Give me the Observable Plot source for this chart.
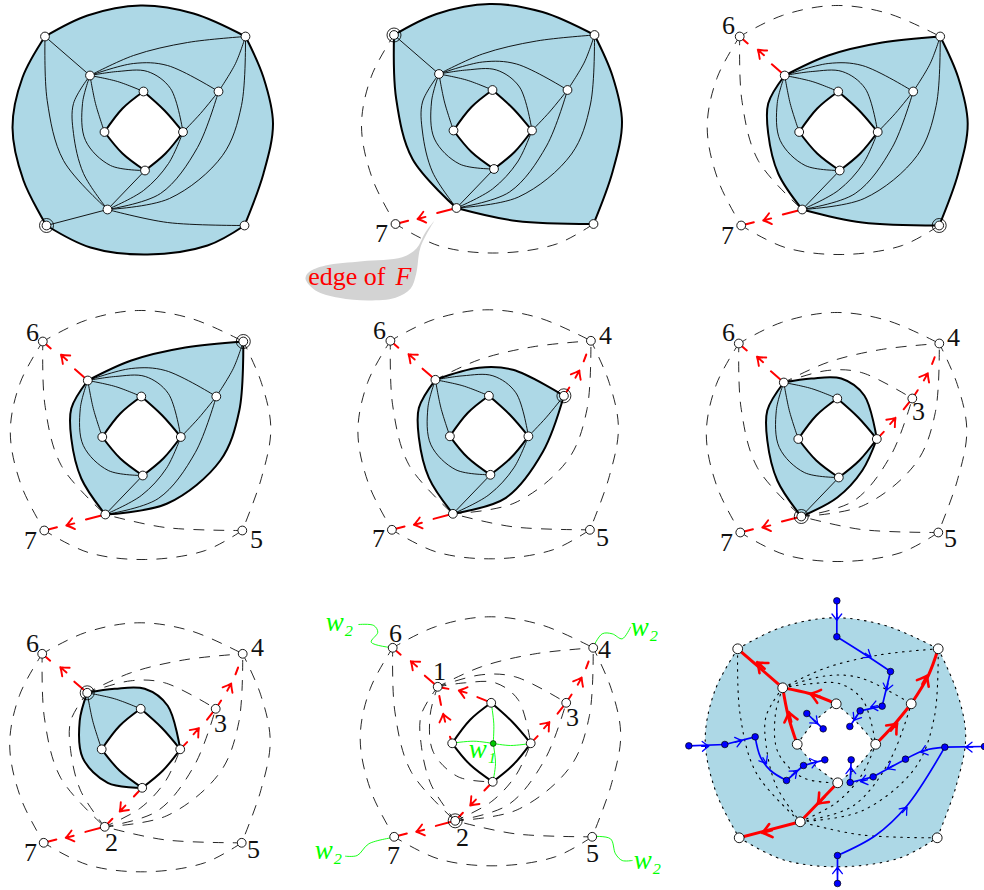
<!DOCTYPE html>
<html><head><meta charset="utf-8">
<script src="https://cdn.jsdelivr.net/npm/d3@7"></script>
<script src="https://cdn.jsdelivr.net/npm/@observablehq/plot@0.6"></script>
<style>html,body{margin:0;padding:0;background:#fff}svg{display:block}</style>
</head><body><div id="chart"></div>
<script>
// ---- Vertices of the base drawing (first panel)
const nodeNames = ["6","4","7","5","1","3","T","L","R","B","2"];
const nodeX = [44.5,245,46,244,89.5,218,143,104,182.5,144.5,107];
const nodeY = [36,36,225,225,75,91,91,131.5,131.5,170,209];
const at = n => [nodeX[nodeNames.indexOf(n)], nodeY[nodeNames.indexOf(n)]];

// ---- Edges, as points
const tlTr = [at("6"),[87,15],[140,5],[193,13],at("4")];
const trBr = [at("4"),[263,77],[272.5,123],[263,173],at("5")];
const blBr = [at("7"),[90,247],[147,254],[207,245],at("5")];
const tlBl = [at("6"),[22,77],[12,127],[23,180],at("7")];
const oneTl = [at("1"),at("6")];
const tlTwo = [at("6"),[46.7,100],[63,160],at("2")];
const oneT = [at("1"),[117,81],at("T")];
const oneL = [at("1"),[95,103],at("L")];
const oneTwoA = [at("1"),[73,103],[73,133],[83,173],at("2")];
const oneB = [at("1"),[82,103],[85,140],[110,165],at("B")];
const oneR = [at("1"),[117,71],[147,71],[170,88],at("R")];
const oneThree = [at("1"),[133,63],[167,65],at("3")];
const oneTr = [at("1"),[133,55],[187,42],at("4")];
const threeTr = [at("3"),[235,63],at("4")];
const threeR = [at("3"),[200,113],at("R")];
const twoB = [at("2"),at("B")];
const twoR = [at("2"),[143,190],[168,163],at("R")];
const twoThree = [at("2"),[160,193],[197,147],at("3")];
const twoTr = [at("2"),[169,198],[222,155],[241,105],at("4")];
const twoBl = [at("2"),at("7")];
const brTwo = [at("5"),[167,222],at("2")];
const dTR = [at("T"),[164,110],at("R")];
const dRB = [at("R"),[165,153],at("B")];
const dBL = [at("B"),[122,153],at("L")];
const dLT = [at("L"),[122,108],at("T")];
const edges = {tlTr,trBr,blBr,tlBl,oneTl,tlTwo,oneT,oneL,oneTwoA,oneB,oneR,oneThree,oneTr,threeTr,threeR,twoB,twoR,twoThree,twoTr,twoBl,brTwo,dTR,dRB,dBL,dLT};
const diamond = ["dTR","dRB","dBL","dLT"];

// ---- Red edges: dash pattern, arrow tip, heading (base coordinates)
const redDash = {oneTl:"17,32,30",twoBl:"20,30,30",threeTr:"10,30,7,30",threeR:"10,30,13",twoB:"12,31,11",oneT:"15,30,10",oneL:"7,33,9,30"};
const redTip = {oneTl:[62.6,49.3],twoBl:[68,220],threeR:[201.2,110.3],threeTr:[233.5,65.7],twoB:[122,193.7],oneT:[110.6,78.7],oneL:[95,102]};
const redHeading = {oneTl:-48.8,twoBl:-104.5,threeR:41,threeTr:29,twoB:-136.3,oneT:-73.6,oneL:-13.6};

// ---- Panels
const panelDx = [0,349,694.7,-2.2,345.4,693.8,-2.8,347.7,692.7];
const panelDy = [0,-1.5,0,305,304.3,307,617.3,611.3,612.3];
const panelRoot = ["7","6","5","4","3","2","1","2",null];
const panelFill = [
  ["tlTr","trBr","-blBr","-tlBl"],
  ["tlTr","trBr","brTwo","-tlTwo"],
  ["oneTr","trBr","brTwo","-oneTwoA"],
  ["oneTr","-twoTr","-oneTwoA"],
  ["oneThree","-twoThree","-oneTwoA"],
  ["oneR","-twoR","-oneTwoA"],
  ["oneR","dRB","-oneB"],
  [],
  ["tlTr","trBr","-blBr","-tlBl"]
];
const panelThin = [
  ["oneTl","tlTwo","oneT","oneL","oneTwoA","oneB","oneR","oneThree","oneTr","threeTr","threeR","twoB","twoR","twoThree","twoTr","twoBl","brTwo"],
  ["oneTl","oneT","oneL","oneTwoA","oneB","oneR","oneThree","oneTr","threeTr","threeR","twoB","twoR","twoThree","twoTr"],
  ["oneT","oneL","oneB","oneR","oneThree","threeTr","threeR","twoB","twoR","twoThree","twoTr"],
  ["oneT","oneL","oneB","oneR","oneThree","threeTr","threeR","twoB","twoR","twoThree"],
  ["oneT","oneL","oneB","oneR","threeR","twoB","twoR"],
  ["oneT","oneL","oneB","twoB"],
  ["oneT","oneL"],
  [],[]
];
const panelDashed = [
  [],
  ["tlBl","blBr"],
  ["tlTr","tlBl","tlTwo","blBr"],
  ["tlTr","tlBl","tlTwo","blBr","trBr","brTwo"],
  ["tlTr","tlBl","tlTwo","blBr","trBr","brTwo","oneTr","twoTr"],
  ["tlTr","tlBl","tlTwo","blBr","trBr","brTwo","oneTr","twoTr","oneThree","twoThree"],
  ["tlTr","tlBl","tlTwo","blBr","trBr","brTwo","oneTr","twoTr","oneThree","twoThree","oneTwoA","twoR"],
  ["tlTr","tlBl","tlTwo","blBr","trBr","brTwo","oneTr","twoTr","oneThree","twoThree","oneTwoA","twoR","oneR","oneB"],
  []
];
const panelRed = [
  [],["twoBl"],["oneTl","twoBl"],["oneTl","twoBl"],["oneTl","twoBl","threeTr"],
  ["oneTl","twoBl","threeTr","threeR"],["oneTl","twoBl","threeTr","threeR","twoB"],
  ["oneTl","twoBl","threeTr","threeR","twoB","oneT","oneL"],[]
];
const panelDotted = ["tlTr","trBr","blBr","tlBl","tlTwo","oneTwoA","oneB","oneR","oneThree","oneTr","twoR","twoThree","twoTr","brTwo","dTR","dRB","dBL","dLT"];
const panelNineRed = ["oneTl","twoBl","threeTr","threeR","twoB","oneT","oneL"];

// ---- Labels (x, y, text)
const digitX = [381,728,727,32,30,256,379,605,378,602,728,953,918,726,950,32,257,220,111,30,253,395,439,604,572,462,393,592];
const digitY = [233,25,235,332,540,539,330,335,538,537,332,337,411,542,538,643,647,723,842,852,849,633,671,649,717,837,855,853];
const digitT = ["7","6","7","6","7","5","6","4","7","5","6","4","3","7","5","6","4","3","2","7","5","6","1","4","3","2","7","5"];
const wX = [339,644,328,647,482];
const wY = [622,627,850,860,749];
const wT = ["w₂","w₂","w₂","w₂","w₁"];

// ---- Grey call-out (picture coordinates)
const calloutX = [434,425,415.7,401.7,361.7,325,308.3,305,315,338.3,368.3,395,410,415.7,420,434];
const calloutY = [220,231.7,248.3,256.7,260.7,265,271.7,278.3,290,297.3,300,297.3,288.3,273.3,246.7,220];

// ---- Green curves in the eighth panel
const green1 = [[358.3,624],[373.3,625],[377.3,631.7],[370.7,641.7],[392.3,647.3]];
const green2 = [[592.3,647.3],[601.7,633.3],[611.7,633.3],[621.7,638.3],[630,626.7]];
const green3 = [[394.3,836.7],[368.3,843.3],[356.7,855],[345,855.7]];
const green4 = [[591.7,836],[610,838.3],[615,853.3],[621.7,860],[631.7,860]];
const green5 = [[492.7,743],[493.3,723.3],[490.7,702.3]];
const green6 = [[492.7,743],[473.3,740.7],[451.3,742.7]];
const green7 = [[492.7,743],[510,745],[530,743]];
const green8 = [[492.7,743],[495,763.3],[492.3,781.7]];
const greenCurves = [green1,green2,green3,green4,green5,green6,green7,green8];

// ---- Blue dual tree in the ninth panel (zoomed coordinates / 3 + origin)
const blueX = [469,469,630,605,539,508,25,133,224,318,369,433,379,428,912,793,675,578,509,512,471,471];
const blueY = [31,139,243,347,361,408,466,462,439,570,525,508,369,415,468,470,506,559,576,508,879,795];
const blueLinks = [[[469,31],[469,139]],[[469,139],[550,190],[630,243]],[[630,243],[605,347]],[[605,347],[539,361]],[[539,361],[508,408]],
 [[25,466],[133,462]],[[133,462],[224,439]],[[224,439],[240,500],[270,540],[318,570]],[[318,570],[369,525]],[[369,525],[433,508]],
 [[379,369],[428,415]],[[912,468],[793,470]],[[793,470],[730,480],[675,506]],[[675,506],[578,559]],[[578,559],[509,576]],[[509,576],[512,508]],
 [[471,879],[471,795]],[[471,795],[585,735],[680,645],[793,470]]];
const blueTipX = [469,572,618,570,520,85,185,258,350,410,412,855,720,620,540,511,471,680];
const blueTipY = [90,200,300,350,390,467,450,520,540,513,400,470,485,535,573,530,830,650];
const blueHeading = [180,123,193,258,-147,88,76,149,49,75,133,270,253,-119,-104,0,0,41];

// ---- Row builders
const edgePts = name => name[0]==="-" ? [...edges[name.slice(1)]].reverse() : edges[name];
const shift = (p, d) => p.map(([x,y]) => ({x:x+d[0], y:y+d[1]}));
const off = i => [panelDx[i], panelDy[i]];
function rows(lists){ // lists[i] = edge names for panel i
  const out=[];
  lists.forEach((names,i)=>names.forEach(n=>shift(edgePts(n),off(i)).forEach(p=>out.push({...p,id:i+":"+n}))));
  return out;
}
const reversedRed = new Set(["threeR","oneT","oneL"]);
function redRows(lists){
  const out=[];
  lists.forEach((names,i)=>names.forEach(n=>{
    const pts = reversedRed.has(n) ? [...edges[n]].reverse() : (n==="twoB" ? [...edges[n]].reverse() : edges[n]);
    shift(pts,off(i)).forEach(p=>out.push({...p,id:i+":"+n,dash:redDash[n]}));
  }));
  return out;
}
const fillRows = []; panelFill.forEach((names,i)=>names.forEach(n=>shift(edgePts(n),off(i)).forEach(p=>fillRows.push({...p,id:i}))));
const holeRows = []; [0,1,2,3,4,5,6,8].forEach(i=>diamond.forEach(n=>shift(edges[n],off(i)).forEach(p=>holeRows.push({...p,id:i}))));
const thinRows = rows(panelThin);
const thickRows = rows(panelFill.map((f,i)=> i===8 ? [] : [...new Set([...f.map(s=>s.replace("-","")),...diamond])]));
const dashedRows = rows(panelDashed);
const dottedRows = rows(panelThin.map((_,i)=> i===8 ? panelDotted : []));
const redData = redRows(panelRed);
const redNine = panelNineRed.flatMap(n=>shift(edges[n],off(8)).map(p=>({...p,id:n})));
const redArrows = [];
panelRed.forEach((names,i)=>names.forEach(n=>redArrows.push({x:redTip[n][0]+panelDx[i],y:redTip[n][1]+panelDy[i],r:redHeading[n]})));
const nineTipX = [230,245,740,650,412,390,325];
const nineTipY = [215,727,255,398,640,310,365];
const nineHead = [-48.8,-104.5,29,41,-136.3,-73.6,-13.6];
const z9 = (x,y)=>({x:x/3+680,y:y/3+590});
const redNineArrows = nineTipX.map((x,i)=>({...z9(x,nineTipY[i]),r:nineHead[i]}));
const blueDots = blueX.map((x,i)=>z9(x,blueY[i]));
const blueRows = blueLinks.flatMap((l,i)=>l.map(([x,y])=>({...z9(x,y),id:i})));
const blueArrows = blueTipX.map((x,i)=>({...z9(x,blueTipY[i]),r:blueHeading[i]}));
const nodeRows = panelDx.flatMap((dx,i)=>nodeNames.map((n,j)=>({x:nodeX[j]+dx,y:nodeY[j]+panelDy[i],p:i})));
const rootRows = panelRoot.flatMap((n,i)=>n?[{x:at(n)[0]+panelDx[i],y:at(n)[1]+panelDy[i]}]:[]);
const greenRows = greenCurves.flatMap((c,i)=>c.map(([x,y])=>({x,y,id:i})));
const calloutRows = calloutX.map((x,i)=>({x,y:calloutY[i]}));

// ---- Arrowhead shapes, tip at the origin pointing up
const head = s => ({draw(c){
  c.moveTo(-s*0.75,s); c.quadraticCurveTo(-s*0.2,s*0.35,0,0);
  c.quadraticCurveTo(s*0.2,s*0.35,s*0.75,s); c.moveTo(0,0); c.lineTo(0,s*1.1);
}});
const curve = "catmull-rom";
const serif = "Liberation Serif";
const xy = {x:"x",y:"y"};

const chart = Plot.plot({
  width:984,height:890,margin:0,
  x:{domain:[0,984],range:[0,984],axis:null},
  y:{domain:[0,890],range:[0,890],axis:null},
  marks:[
    Plot.line(calloutRows,{...xy,curve,fill:"#d3d3d3",stroke:"none"}),
    Plot.line(fillRows,{...xy,z:"id",curve,fill:"#add8e6",stroke:"none"}),
    Plot.line(holeRows,{...xy,z:"id",curve,fill:"#fff",stroke:"none"}),
    Plot.line(thinRows,{...xy,z:"id",curve,stroke:"#000",strokeWidth:0.9}),
    Plot.line(thickRows,{...xy,z:"id",curve,stroke:"#000",strokeWidth:2}),
    Plot.line(dashedRows,{...xy,z:"id",curve,stroke:"#000",strokeWidth:0.85,strokeDasharray:"10,10",strokeDashoffset:1.5}),
    Plot.line(dottedRows,{...xy,z:"id",curve,stroke:"#000",strokeWidth:1.1,strokeDasharray:"1.6,5.4"}),
    Plot.line(greenRows,{...xy,z:"id",curve,stroke:"#00ff00",strokeWidth:0.9}),
    ...Object.keys(redDash).map(k=>Plot.line(redData.filter(d=>d.dash===redDash[k]),{...xy,z:"id",curve,stroke:"#ff0000",strokeWidth:2,strokeDasharray:redDash[k]})),
    Plot.vector(redArrows,{...xy,rotate:"r",length:8,anchor:"start",shape:head(7.5),stroke:"#ff0000",strokeWidth:1.9}),
    Plot.line(redNine,{...xy,z:"id",curve,stroke:"#ff0000",strokeWidth:3}),
    Plot.vector(redNineArrows,{...xy,rotate:"r",length:8,anchor:"start",shape:head(9),stroke:"#ff0000",strokeWidth:2.6}),
    Plot.line(blueRows,{...xy,z:"id",curve,stroke:"#0000ff",strokeWidth:1.7}),
    Plot.vector(blueArrows,{...xy,rotate:"r",length:6,anchor:"start",shape:head(6.5),stroke:"#0000ff",strokeWidth:1.3}),
    Plot.dot(blueDots,{...xy,r:3.3,fill:"#0000ff",stroke:"#000",strokeWidth:0.7}),
    Plot.dot(rootRows,{...xy,r:7,fill:"none",stroke:"#000",strokeWidth:0.85}),
    Plot.dot(nodeRows.filter(d=>d.p<8),{...xy,r:4.4,fill:"#fff",stroke:"#000",strokeWidth:0.9}),
    Plot.dot(nodeRows.filter(d=>d.p===8),{...xy,r:4.9,fill:"#fff",stroke:"#000",strokeWidth:0.9}),
    Plot.dot([{x:492.7,y:743}],{...xy,r:2.9,fill:"#00c800",stroke:"#000",strokeWidth:0.6}),
    Plot.text(digitT,{x:(d,i)=>digitX[i],y:(d,i)=>digitY[i],text:d=>d,fontFamily:serif,fontSize:26,fill:"#111"}),
    Plot.text(wT,{x:(d,i)=>wX[i],y:(d,i)=>wY[i],text:d=>d,fontFamily:serif,fontStyle:"italic",fontSize:27,fill:"#00ff00"}),
    Plot.text(["edge of"],{x:307.7,y:275.7,text:d=>d,textAnchor:"start",fontFamily:serif,fontSize:26,fill:"#ff0000"}),
    Plot.text(["F"],{x:395,y:275.7,text:d=>d,textAnchor:"start",fontFamily:serif,fontStyle:"italic",fontSize:26,fill:"#ff0000"})
  ]
});
document.getElementById("chart").append(chart);
</script></body></html>
